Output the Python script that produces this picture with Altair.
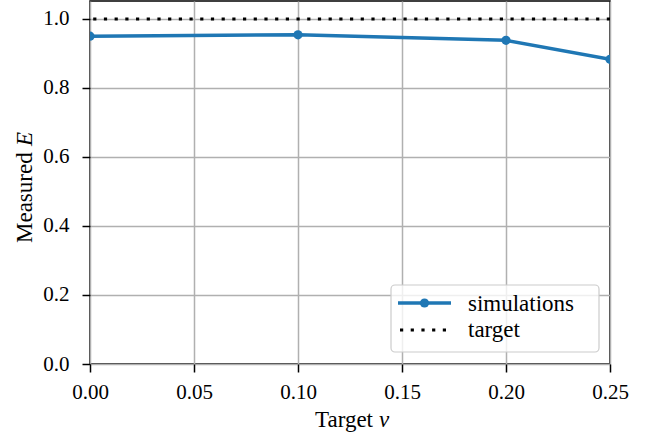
import altair as alt
import pandas as pd

# Measured E for each target nu
target_nu = [0.0, 0.1, 0.2, 0.25]
measured_e = [0.950, 0.954, 0.938, 0.883]
target_value = [1.0]
legend_labels = ["simulations", "target"]

x_ticks = [0.0, 0.05, 0.10, 0.15, 0.20, 0.25]
y_ticks = [0.0, 0.2, 0.4, 0.6, 0.8, 1.0]

FONT = "Liberation Serif"
BLUE = "#1f77b4"
TEXT_SIZE = 23
TICK_SIZE = 21

sim = pd.DataFrame({"nu": target_nu, "E": measured_e})
tgt = pd.DataFrame({"E": target_value})
one = pd.DataFrame({"label": legend_labels[:1]})

x_scale = alt.Scale(domain=[0, 0.25], nice=False, zero=False)
y_scale = alt.Scale(domain=[0, 1.052], nice=False)

x_axis = alt.Axis(values=x_ticks, format=".2f", title=None, grid=True,
                  domain=False, tickSize=8, tickWidth=1.5, tickColor="black",
                  labelPadding=9, labelFont=FONT, labelFontSize=TICK_SIZE,
                  labelFlush=False, labelOverlap=False,
                  labelColor="black", gridColor="#b0b0b0", gridWidth=1.5)
y_axis = alt.Axis(values=y_ticks, format=".1f", title=None, grid=True,
                  domain=False, tickSize=8, tickWidth=1.5, tickColor="black",
                  labelPadding=13, labelFont=FONT, labelFontSize=TICK_SIZE,
                  labelFlush=False, labelOverlap=False,
                  labelColor="black", gridColor="#b0b0b0", gridWidth=1.5)

base = alt.Chart(sim)

line = base.mark_line(color=BLUE, strokeWidth=3.5, clip=True).encode(
    x=alt.X("nu:Q", scale=x_scale, axis=x_axis),
    y=alt.Y("E:Q", scale=y_scale, axis=y_axis),
)
points = base.mark_point(filled=True, color=BLUE, size=85, opacity=1, clip=True).encode(
    x=alt.X("nu:Q", scale=x_scale),
    y=alt.Y("E:Q", scale=y_scale),
)
target = alt.Chart(tgt).mark_rule(color="black", strokeWidth=3,
                                  strokeDash=[3.2, 7.5], clip=True).encode(
    y=alt.Y("E:Q", scale=y_scale),
)


def label(text, x, y, **kw):
    opts = dict(text=text, font=FONT, fontSize=TEXT_SIZE, color="black")
    opts.update(kw)
    return alt.Chart(one).mark_text(**opts).encode(x=alt.value(x), y=alt.value(y))


# axis titles with italic symbols
x_title_a = label("Target", 283, 426, align="right", baseline="alphabetic")
x_title_b = label("ν", 289, 426, align="left", baseline="alphabetic", fontStyle="italic")
y_title_a = label("Measured", -58, 242, angle=270, align="left", baseline="alphabetic")
y_title_b = label("E", -58, 145, angle=270, align="left", baseline="alphabetic",
                  fontStyle="italic")

# legend
leg_box = alt.Chart(one).mark_rect(
    fill="white", fillOpacity=0.8, stroke="#cccccc", strokeWidth=1.2,
    cornerRadius=4).encode(
    x=alt.value(301), x2=alt.value(509), y=alt.value(284), y2=alt.value(351))
leg_line = alt.Chart(one).mark_rule(color=BLUE, strokeWidth=3.5).encode(
    x=alt.value(308), x2=alt.value(361), y=alt.value(302))
leg_point = alt.Chart(one).mark_point(
    filled=True, color=BLUE, size=85, opacity=1).encode(
    x=alt.value(334.5), y=alt.value(302))
leg_dot = alt.Chart(one).mark_rule(
    color="black", strokeWidth=3, strokeDash=[3.2, 7.5]).encode(
    x=alt.value(310), x2=alt.value(359), y=alt.value(329))
leg_text_a = label(legend_labels[0], 378, 310, align="left", baseline="alphabetic")
leg_text_b = label(legend_labels[1], 378, 336, align="left", baseline="alphabetic")

chart = alt.layer(
    line, target, points, leg_box, leg_line, leg_point, leg_dot,
    leg_text_a, leg_text_b, x_title_a, x_title_b, y_title_a, y_title_b,
).properties(
    width=520, height=363,
    padding={"left": 90, "top": 1, "right": 45, "bottom": 77},
    autosize=alt.AutoSizeParams(type="none"),
    background="white",
).configure_axis(
    labelFont=FONT, labelFontSize=TICK_SIZE, labelColor="black",
).configure_view(stroke="black", strokeWidth=1.5)

chart.save("out.html", embed_options={"renderer": "svg", "actions": False})
